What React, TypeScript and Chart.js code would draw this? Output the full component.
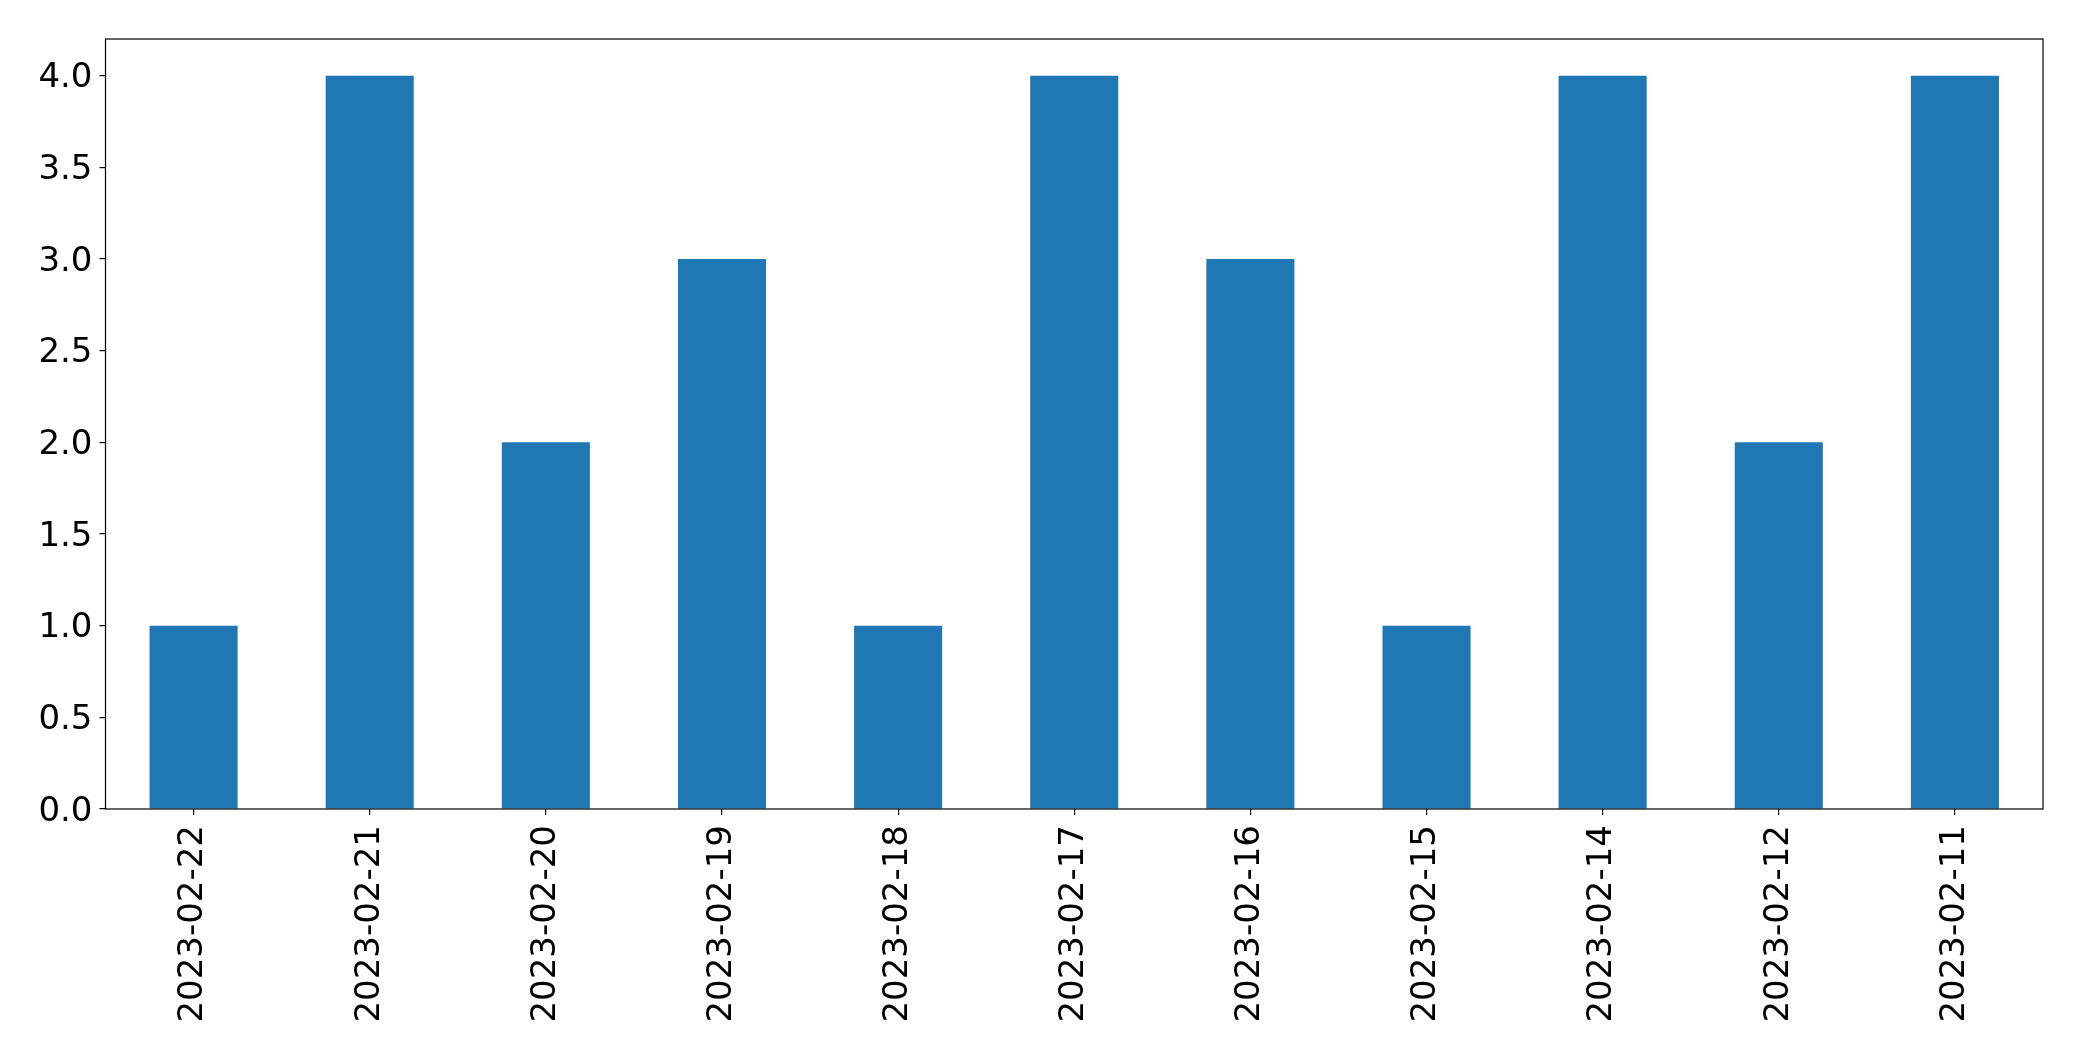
import React, { useEffect, useRef } from "react";
import { Chart, registerables } from "chart.js";

Chart.register(...registerables);

const categories = [
  "2023-02-22", "2023-02-21", "2023-02-20", "2023-02-19", "2023-02-18",
  "2023-02-17", "2023-02-16", "2023-02-15", "2023-02-14", "2023-02-12", "2023-02-11",
];
const counts = [1, 4, 2, 3, 1, 4, 3, 1, 4, 2, 4];
const yTicks = [0, 0.5, 1, 1.5, 2, 2.5, 3, 3.5, 4];

const FONT = "'DejaVu Sans', sans-serif";

const frame = {
  id: "frame",
  afterDraw(chart: any) {
    const { ctx, chartArea } = chart;
    ctx.save();
    ctx.strokeStyle = "#000";
    ctx.lineWidth = 1.2;
    ctx.strokeRect(chartArea.left, chartArea.top, chartArea.right - chartArea.left, chartArea.bottom - chartArea.top);
    ctx.restore();
  },
};

export default function App() {
  const ref = useRef<HTMLCanvasElement>(null);
  useEffect(() => {
    const chart = new Chart(ref.current!, {
      type: "bar",
      data: {
        labels: categories,
        datasets: [
          {
            data: counts,
            backgroundColor: "#1f77b4",
            borderWidth: 0,
            barPercentage: 0.5,
            categoryPercentage: 1,
          },
        ],
      },
      options: {
        animation: false,
        responsive: false,
        maintainAspectRatio: false,
        layout: { padding: { left: 0, top: 39, right: 39, bottom: 0 } },
        plugins: { legend: { display: false }, tooltip: { enabled: false } },
        scales: {
          x: {
            offset: true,
            grid: { display: true, offset: false, drawOnChartArea: false, drawTicks: true, tickLength: 6, color: "#000", lineWidth: 1.2 },
            border: { display: false },
            ticks: {
              color: "#000",
              font: { family: FONT, size: 34 },
              minRotation: 90,
              maxRotation: 90,
              padding: 10,
              autoSkip: false,
            },
            afterFit(scale: any) {
              scale.height = 252;
            },
          },
          y: {
            min: 0,
            max: 4.2,
            grid: { display: true, drawOnChartArea: false, drawTicks: true, tickLength: 6, color: "#000", lineWidth: 1.2 },
            border: { display: false },
            afterBuildTicks(scale: any) {
              scale.ticks = yTicks.map((v) => ({ value: v }));
            },
            ticks: {
              color: "#000",
              font: { family: FONT, size: 34 },
              padding: 7,
              labelOffset: 3,
              callback: (v: any) => Number(v).toFixed(1),
            },
            afterFit(scale: any) {
              scale.width = 105.5;
            },
          },
        },
      },
      plugins: [frame],
    });
    return () => chart.destroy();
  }, []);
  return (
    <div style={{ position: "fixed", left: 0, top: 0, width: 2082, height: 1061, background: "#fff" }}>
      <canvas ref={ref} width={2082} height={1061} style={{ width: 2082, height: 1061 }} />
    </div>
  );
}
